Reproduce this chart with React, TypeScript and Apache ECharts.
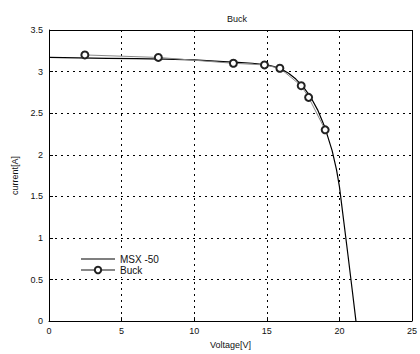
import React, { useEffect, useRef } from "react";
import * as echarts from "echarts";

const msxVoltage = [0, 2, 4, 6, 8, 10, 12, 13, 14, 15, 15.5, 16, 16.5, 17, 17.5, 18, 18.5, 19, 19.5, 19.8, 20, 20.3, 20.6, 20.9, 21.14];
const msxCurrent = [3.17, 3.165, 3.16, 3.155, 3.15, 3.14, 3.12, 3.11, 3.1, 3.08, 3.06, 3.03, 2.98, 2.91, 2.82, 2.7, 2.54, 2.33, 2.05, 1.82, 1.62, 1.2, 0.78, 0.35, 0];
const buckVoltage = [2.47, 7.53, 12.7, 14.84, 15.9, 17.37, 17.88, 19.02];
const buckCurrent = [3.2, 3.17, 3.1, 3.08, 3.04, 2.83, 2.69, 2.3];
const xTicks = [0, 5, 10, 15, 20, 25];
const yTicks = [0, 0.5, 1, 1.5, 2, 2.5, 3, 3.5];

export default function App() {
  const ref = useRef<HTMLDivElement>(null);
  useEffect(() => {
    if (!ref.current) return;
    const chart = echarts.init(ref.current, null, { renderer: "svg" });
    const font = "Liberation Sans, Arial, sans-serif";
    const axisCommon = {
      axisLine: { show: true, lineStyle: { color: "#000", width: 1 } },
      axisTick: { show: true, inside: true, length: 4, lineStyle: { color: "#000" } },
      splitLine: { show: true, lineStyle: { color: "#000", type: [2, 4] as any, width: 1 } },
      axisLabel: { color: "#111", fontSize: 9, fontFamily: font },
      nameTextStyle: { color: "#111", fontSize: 9, fontFamily: font },
    };
    chart.setOption({
      animation: false,
      backgroundColor: "#fff",
      title: {
        text: "Buck",
        left: 232,
        top: 9,
        textAlign: "center",
        textStyle: { fontSize: 9, fontWeight: "normal", color: "#111", fontFamily: font },
      },
      grid: { left: 49, right: 6, top: 30, bottom: 30, show: false },
      legend: {
        orient: "vertical",
        left: 78,
        top: 252,
        itemGap: 1,
        itemWidth: 34,
        itemHeight: 8,
        backgroundColor: "#fff",
        padding: [2, 4, 2, 2],
        textStyle: { fontSize: 10, color: "#111", fontFamily: font },
        data: [
          { name: "MSX -50", icon: "path://M0,0 L30,0 L30,1 L0,1 Z", itemStyle: { color: "#000" } },
          { name: "Buck" },
        ],
      },
      xAxis: {
        type: "value",
        min: 0,
        max: 25,
        interval: 5,
        name: "Voltage[V]",
        nameLocation: "middle",
        nameGap: 17,
        ...axisCommon,
        axisLabel: { ...axisCommon.axisLabel, margin: 5, customValues: xTicks } as any,
      },
      yAxis: {
        type: "value",
        min: 0,
        max: 3.5,
        interval: 0.5,
        name: "current[A]",
        nameLocation: "middle",
        nameGap: 25,
        ...axisCommon,
        axisLabel: { ...axisCommon.axisLabel, margin: 6, customValues: yTicks } as any,
      },
      series: [
        {
          name: "MSX -50",
          type: "line",
          data: msxVoltage.map((v, i) => [v, msxCurrent[i]]),
          showSymbol: false,
          symbol: "none",
          lineStyle: { color: "#000", width: 1.2 },
          itemStyle: { color: "#000" },
          z: 2,
        },
        {
          name: "Buck",
          type: "line",
          data: buckVoltage.map((v, i) => [v, buckCurrent[i]]),
          symbol: "emptyCircle",
          symbolSize: 7,
          showSymbol: true,
          lineStyle: { color: "#888", width: 1 },
          itemStyle: { color: "#222", borderWidth: 1 },
          z: 3,
        },
        {
          type: "line",
          data: [[0, 1], [0, 1]],
          silent: true,
          symbol: "none",
          lineStyle: { width: 0 },
          markLine: {
            silent: true,
            symbol: "none",
            label: { show: false },
            lineStyle: { color: "#000", type: "solid", width: 1 },
            data: [[{ coord: [0, 3.5] }, { coord: [25, 3.5] }], [{ coord: [25, 0] }, { coord: [25, 3.5] }]],
          },
        },
      ],
    });
    return () => chart.dispose();
  }, []);
  return <div ref={ref} style={{ width: 420, height: 354, position: "absolute", left: 0, top: 0 }} />;
}
